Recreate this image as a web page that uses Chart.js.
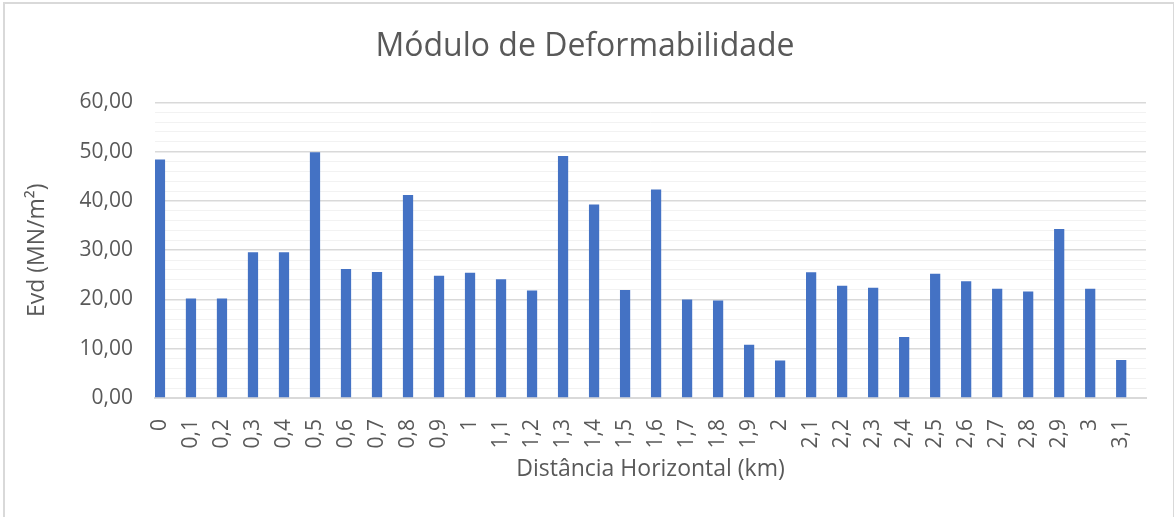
<!DOCTYPE html>
<html>
<head>
<meta charset="utf-8">
<script src="https://cdn.jsdelivr.net/npm/chart.js@4"></script>
<style>
  body { margin: 0; background: #fff; }
  #frame { position: absolute; left: 3px; top: 2px; width: 1171px; height: 520px; border: 2px solid #d9d9d9; border-right-width: 1px; box-sizing: border-box; }
  #grafico { position: absolute; left: 0; top: 0; }
</style>
</head>
<body>
<div id="frame"></div>
<canvas id="grafico" width="1176" height="517"></canvas>
<script>
// distâncias (km) e módulo Evd
const distancias = ['0','0,1','0,2','0,3','0,4','0,5','0,6','0,7','0,8','0,9','1','1,1','1,2','1,3','1,4','1,5',
                    '1,6','1,7','1,8','1,9','2','2,1','2,2','2,3','2,4','2,5','2,6','2,7','2,8','2,9','3','3,1'];
const evd = [48.4, 20.2, 20.2, 29.6, 29.6, 49.9, 26.2, 25.6, 41.2, 24.8, 25.4, 24.1, 21.8, 49.1, 39.3, 21.9,
             42.3, 20.0, 19.8, 10.8, 7.6, 25.5, 22.8, 22.4, 12.4, 25.2, 23.7, 22.2, 21.6, 34.3, 22.2, 7.7];
const yTicks = [0, 10, 20, 30, 40, 50, 60];
const tituloGrafico = 'Módulo de Deformabilidade';
const tituloX = 'Distância Horizontal (km)';
const tituloY = 'Evd (MN/m²)';

const cinza = '#595959';
const fonte = "'Open Sans', sans-serif";

// as barras do Excel ficam encostadas à esquerda de cada categoria,
// por isso o eixo x é linear (índice) com os rótulos vindos de "distancias"
const pontos = evd.map((v, i) => ({ x: i, y: v }));

const ctx = document.getElementById('grafico').getContext('2d');
new Chart(ctx, {
    type: 'bar',
    data: {
        datasets: [{
            label: 'Evd',
            data: pontos,
            backgroundColor: '#4472C4',
            categoryPercentage: 1,
            barPercentage: 0.33
        }]
    },
    options: {
        responsive: false,
        animation: false,
        layout: { padding: { left: 24, right: 30, top: 0, bottom: 0 } },
        plugins: {
            legend: { display: false },
            tooltip: { enabled: false },
            title: {
                display: true,
                text: tituloGrafico,
                color: cinza,
                font: { family: fonte, size: 32, weight: 'normal' },
                padding: { top: 28, bottom: 36 }
            }
        },
        scales: {
            x: {
                type: 'linear',
                offset: false,
                min: -0.16,
                max: distancias.length - 0.2,
                grid: { display: false },
                border: { color: '#d9d9d9', width: 2 },
                afterBuildTicks: s => { s.ticks = distancias.map((d, i) => ({ value: i })); },
                ticks: {
                    color: cinza,
                    font: { family: fonte, size: 21 },
                    minRotation: 90,
                    maxRotation: 90,
                    autoSkip: false,
                    padding: 13,
                    callback: v => (distancias[v] !== undefined ? distancias[v] : '')
                },
                title: {
                    display: true,
                    text: tituloX,
                    color: cinza,
                    font: { family: fonte, size: 23 },
                    padding: { top: 0, bottom: 34 }
                },
                afterFit: s => { s.height = 119; }
            },
            y: {
                min: 0,
                max: 60,
                border: { display: false },
                grid: {
                    drawTicks: false,
                    color: c => (yTicks.includes(c.tick.value) ? '#d9d9d9' : '#f2f2f2'),
                    lineWidth: c => (yTicks.includes(c.tick.value) ? 1.5 : 1)
                },
                ticks: {
                    stepSize: 2,
                    autoSkip: false,
                    color: cinza,
                    font: { family: fonte, size: 21 },
                    padding: 22,
                    callback: v => (yTicks.includes(v) ? v.toFixed(2).replace('.', ',') : '')
                },
                title: {
                    display: true,
                    text: tituloY,
                    color: cinza,
                    font: { family: fonte, size: 23 },
                    padding: 0
                },
                afterFit: s => { s.width = 131; }
            }
        }
    }
});
</script>
</body>
</html>
